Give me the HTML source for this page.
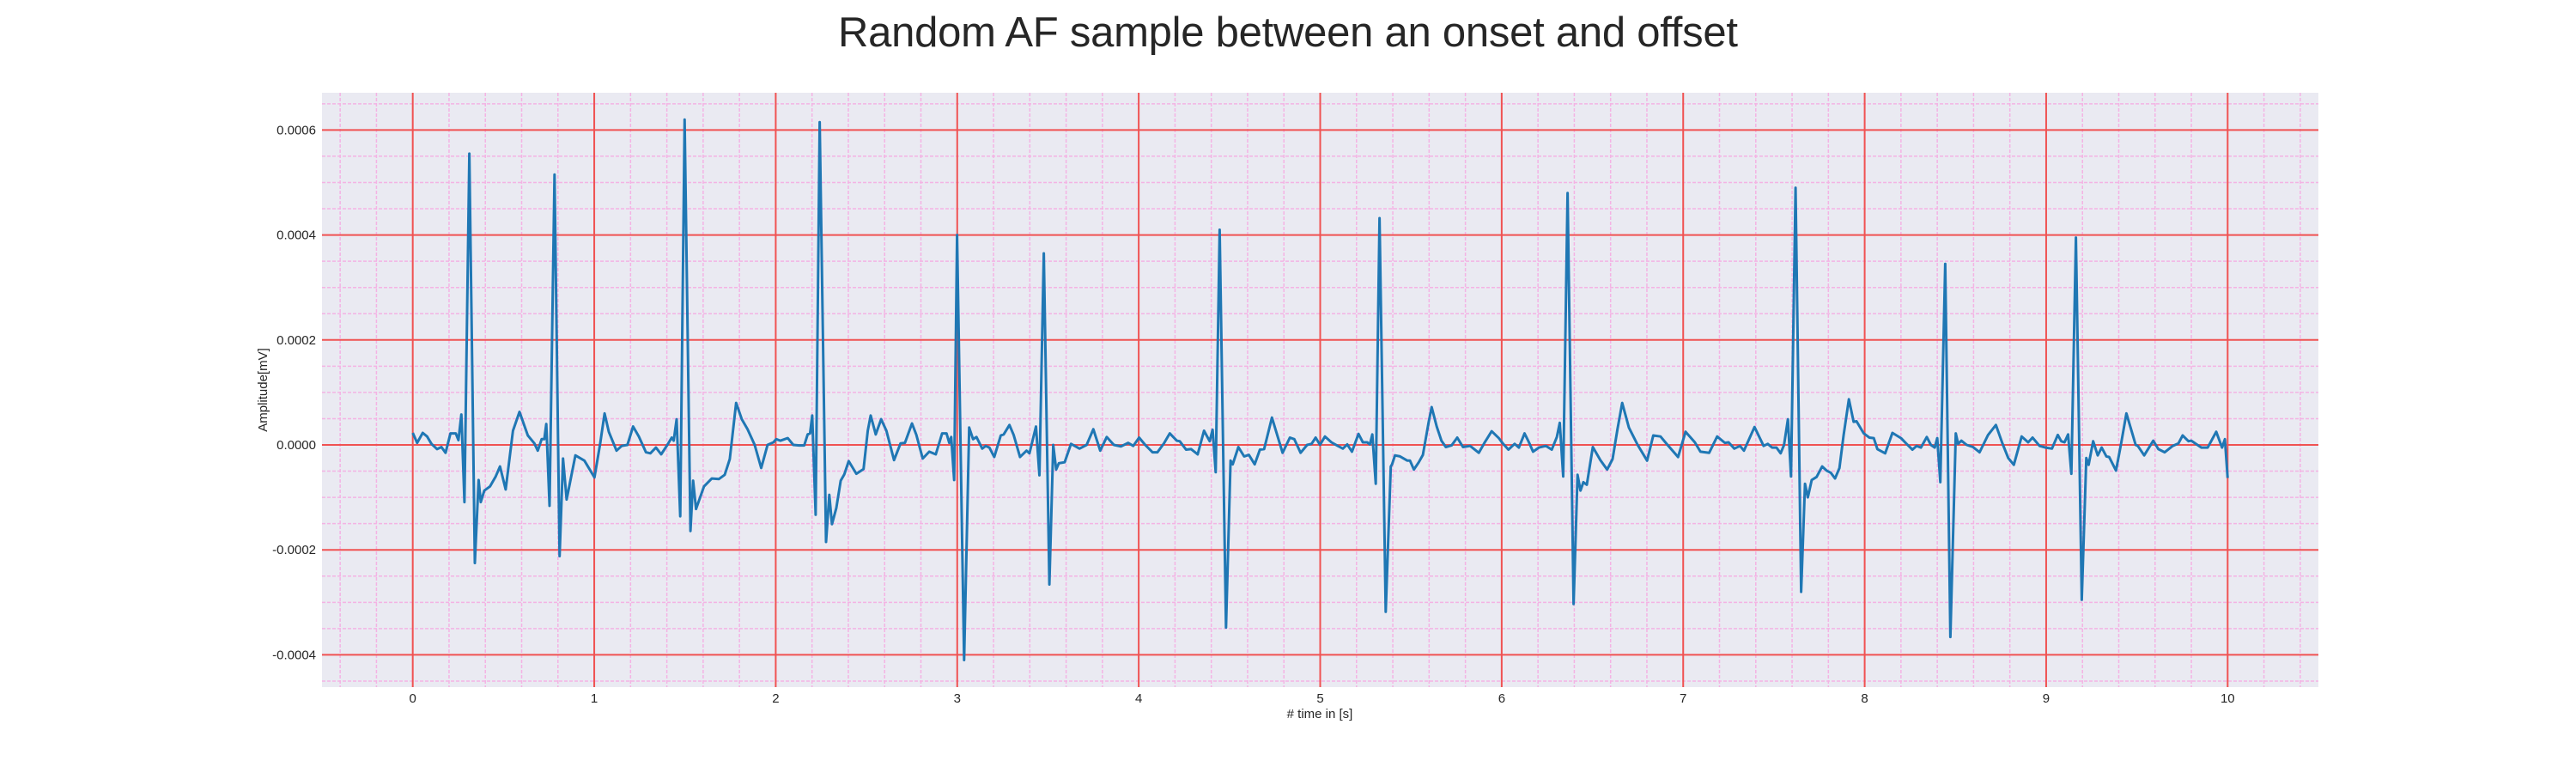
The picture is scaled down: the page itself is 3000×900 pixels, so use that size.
<!DOCTYPE html>
<html><head><meta charset="utf-8"><style>
html,body{margin:0;padding:0;background:#fff;}
svg{display:block;font-family:"Liberation Sans",Arial,sans-serif;}
</style></head><body>
<svg id="chart" width="3000" height="900" viewBox="0 0 3000 900" xmlns="http://www.w3.org/2000/svg">
<text x="1500" y="54" font-size="49" text-anchor="middle" fill="#262626" textLength="1048">Random AF sample between an onset and offset</text>
<rect x="375" y="108" width="2325" height="692" fill="#eaeaf2"/>
<g id="grid"></g>
<g id="ticks"></g>
<g id="series"></g>
<text x="1537" y="836" font-size="15" text-anchor="middle" fill="#262626"># time in [s]</text>
<text x="0" y="0" font-size="15" text-anchor="middle" fill="#262626" transform="translate(311,454) rotate(-90)">Amplitude[mV]</text>
</svg>
<script>
// time in seconds
const times = [0,0.024,0.055,0.079,0.103,0.134,0.158,0.181,0.208,0.237,0.252,0.268,0.285,0.312,0.342,0.363,0.375,0.394,0.426,0.457,0.481,0.512,0.552,0.588,0.634,0.670,0.689,0.710,0.725,0.736,0.754,0.781,0.809,0.828,0.848,0.896,0.946,1.001,1.033,1.057,1.080,1.123,1.151,1.183,1.214,1.246,1.285,1.309,1.340,1.369,1.403,1.427,1.438,1.454,1.474,1.498,1.530,1.545,1.561,1.605,1.648,1.687,1.719,1.747,1.782,1.813,1.845,1.884,1.920,1.955,1.987,2.003,2.026,2.066,2.097,2.129,2.157,2.176,2.189,2.201,2.220,2.242,2.277,2.295,2.310,2.334,2.358,2.378,2.402,2.444,2.484,2.507,2.523,2.551,2.581,2.610,2.652,2.688,2.712,2.751,2.775,2.810,2.846,2.882,2.917,2.941,2.956,2.967,2.983,2.999,3.038,3.066,3.087,3.106,3.138,3.157,3.177,3.204,3.240,3.256,3.288,3.311,3.346,3.382,3.398,3.434,3.453,3.477,3.508,3.529,3.545,3.560,3.592,3.627,3.674,3.713,3.750,3.788,3.824,3.863,3.902,3.942,3.970,4.002,4.036,4.076,4.103,4.139,4.171,4.210,4.226,4.261,4.289,4.325,4.360,4.391,4.407,4.424,4.446,4.481,4.506,4.518,4.549,4.581,4.607,4.639,4.668,4.691,4.734,4.793,4.833,4.857,4.892,4.928,4.952,4.975,4.999,5.026,5.062,5.097,5.125,5.149,5.175,5.211,5.235,5.259,5.274,5.287,5.306,5.327,5.361,5.389,5.396,5.412,5.440,5.480,5.495,5.516,5.543,5.566,5.598,5.614,5.642,5.668,5.692,5.724,5.755,5.787,5.826,5.874,5.905,5.945,5.984,6.008,6.037,6.071,6.095,6.126,6.150,6.173,6.205,6.244,6.276,6.304,6.320,6.339,6.363,6.396,6.418,6.434,6.450,6.469,6.502,6.544,6.581,6.611,6.638,6.664,6.701,6.749,6.801,6.835,6.875,6.914,6.972,7.013,7.064,7.095,7.143,7.187,7.230,7.250,7.282,7.313,7.335,7.393,7.443,7.466,7.490,7.514,7.537,7.556,7.577,7.594,7.619,7.650,7.671,7.687,7.708,7.735,7.766,7.790,7.813,7.837,7.861,7.884,7.913,7.939,7.955,7.995,8.026,8.050,8.070,8.113,8.153,8.200,8.231,8.263,8.286,8.310,8.326,8.342,8.365,8.386,8.400,8.417,8.444,8.472,8.502,8.515,8.533,8.562,8.597,8.633,8.680,8.723,8.759,8.791,8.822,8.865,8.901,8.925,8.964,8.996,9.032,9.064,9.083,9.101,9.121,9.139,9.164,9.196,9.221,9.234,9.259,9.284,9.306,9.332,9.347,9.385,9.414,9.442,9.493,9.505,9.540,9.590,9.618,9.653,9.697,9.729,9.752,9.784,9.800,9.855,9.890,9.937,9.969,9.985,10.0];
// amplitude in units of 1e-4 mV
const amplitudeE4 = [0.23,0.04,0.23,0.16,0.02,-0.08,-0.04,-0.15,0.22,0.22,0.09,0.58,-1.09,5.55,-2.25,-0.67,-1.09,-0.87,-0.79,-0.60,-0.41,-0.85,0.27,0.63,0.18,0.03,-0.11,0.11,0.11,0.40,-1.16,5.15,-2.12,-0.26,-1.04,-0.20,-0.30,-0.62,0.03,0.60,0.25,-0.11,-0.02,0,0.35,0.16,-0.14,-0.16,-0.05,-0.18,0,0.14,0.08,0.49,-1.36,6.2,-1.64,-0.68,-1.22,-0.79,-0.64,-0.65,-0.57,-0.27,0.80,0.49,0.30,0,-0.44,0,0.05,0.11,0.08,0.13,0,-0.01,-0.01,0.20,0.22,0.56,-1.33,6.15,-1.85,-0.95,-1.51,-1.20,-0.68,-0.56,-0.31,-0.55,-0.46,0.27,0.56,0.20,0.49,0.27,-0.29,0.03,0.04,0.41,0.19,-0.26,-0.13,-0.18,0.22,0.22,0.04,0.15,-0.67,4.0,-4.1,0.33,0.11,0.15,-0.07,-0.02,-0.05,-0.23,0.18,0.20,0.38,0.19,-0.23,-0.11,-0.16,0.35,-0.58,3.65,-2.66,0,-0.47,-0.35,-0.33,0.02,-0.07,0,0.30,-0.11,0.15,0,-0.03,0.04,-0.02,0.14,0,-0.14,-0.14,0.03,0.22,0.08,0.07,-0.09,-0.08,-0.18,0.27,0.07,0.29,-0.52,4.1,-3.48,-0.30,-0.37,-0.04,-0.22,-0.19,-0.37,-0.09,-0.08,0.52,-0.15,0.14,0.11,-0.15,0,0.02,0.14,0,0.16,0.05,-0.02,-0.07,0.01,-0.13,0.21,0.05,0.05,0.01,0.20,-0.74,4.32,-3.18,-0.41,-0.37,-0.20,-0.22,-0.30,-0.30,-0.47,-0.33,-0.19,0.44,0.72,0.35,0.08,-0.04,-0.01,0.14,-0.04,-0.02,-0.15,0.04,0.26,0.13,0.02,-0.09,0.02,-0.05,0.22,0.05,-0.13,-0.05,-0.02,-0.09,0.15,0.42,-0.60,4.8,-3.03,-0.57,-0.87,-0.71,-0.76,-0.04,-0.29,-0.47,-0.27,0.30,0.80,0.33,0,-0.30,0.18,0.16,0,-0.23,0.25,0.05,-0.13,-0.15,0.16,0.04,0.05,-0.07,-0.02,-0.11,0.34,-0.02,0.02,-0.05,-0.05,-0.16,0,0.49,-0.60,4.9,-2.80,-0.74,-1.00,-0.67,-0.61,-0.41,-0.49,-0.53,-0.64,-0.44,0.19,0.87,0.44,0.45,0.22,0.14,0.13,-0.08,-0.16,0.23,0.13,0.02,-0.09,-0.02,-0.05,0.05,0.15,0,-0.05,0.13,-0.71,3.45,-3.66,0.22,0.02,0.08,0,-0.04,-0.14,0.19,0.38,0.03,-0.25,-0.38,0.16,0.05,0.14,-0.02,-0.05,-0.07,0.19,0.07,0.05,0.20,-0.55,3.95,-2.95,-0.25,-0.38,0.07,-0.20,-0.05,-0.22,-0.23,-0.49,0.05,0.60,0,-0.02,-0.20,0.08,-0.08,-0.14,-0.02,0.03,0.18,0.07,0.08,-0.05,-0.05,0.25,-0.05,0.11,-0.63];
const xTickLabels = ["0","1","2","3","4","5","6","7","8","9","10"];
const yTickValues = [-4,-2,0,2,4,6];
const yTickLabels = ["-0.0004","-0.0002","0.0000","0.0002","0.0004","0.0006"];

const NS = "http://www.w3.org/2000/svg";
const PL = 375, PR = 2700, PT = 108, PB = 800;
const XMIN = -0.5, XMAX = 10.5, YMIN = -4.615, YMAX = 6.71;
function xScale(t){ return PL + (t - XMIN) / (XMAX - XMIN) * (PR - PL); }
function yScale(v){ return PT + (YMAX - v) / (YMAX - YMIN) * (PB - PT); }
function mk(tag, attrs, parent){
  const e = document.createElementNS(NS, tag);
  for (const k in attrs) e.setAttribute(k, attrs[k]);
  parent.appendChild(e);
  return e;
}
const grid = document.getElementById('grid');
for (let i = -2; i <= 52; i++) {
  const t = i * 0.2;
  if (i % 5 === 0) continue;
  const x = xScale(t);
  if (x < PL || x > PR) continue;
  const l = mk('line', {x1:x, x2:x, y1:PT, y2:PB, stroke:'#f4b3e4', 'stroke-width':1.5, 'stroke-dasharray':'4,2'}, grid);
  
  
}
for (let i = -10; i <= 14; i++) {
  const v = i * 0.5;
  if (i % 4 === 0) continue;
  const y = yScale(v);
  if (y < PT || y > PB) continue;
  const l = mk('line', {x1:PL, x2:PR, y1:y, y2:y, stroke:'#f4b3e4', 'stroke-width':1.5, 'stroke-dasharray':'4,2'}, grid);
  
  
}
const ticks = document.getElementById('ticks');
xTickLabels.forEach((lab, i) => {
  const x = xScale(i);
  const l = mk('line', {x1:x, x2:x, y1:PT, y2:PB, stroke:'#f05252', 'stroke-width':2}, grid);
  
  
  const tx = mk('text', {x:x, y:818, 'font-size':15, 'text-anchor':'middle', fill:'#262626'}, ticks);
  tx.textContent = lab;
  
  
});
yTickValues.forEach((v, i) => {
  const y = yScale(v);
  const l = mk('line', {x1:PL, x2:PR, y1:y, y2:y, stroke:'#f05252', 'stroke-width':2}, grid);
  
  
  const tx = mk('text', {x:368, y:y + 5, 'font-size':15, 'text-anchor':'end', fill:'#262626'}, ticks);
  tx.textContent = yTickLabels[i];
  
  
});
const series = document.getElementById('series');
let d = '';
for (let i = 0; i < times.length; i++) {
  d += (i ? 'L' : 'M') + xScale(times[i]).toFixed(1) + ',' + yScale(amplitudeE4[i]).toFixed(1);
}
const path = mk('path', {d:d, fill:'none', stroke:'#1f77b4', 'stroke-width':3, 'stroke-linejoin':'round'}, series);


</script>
</body></html>
